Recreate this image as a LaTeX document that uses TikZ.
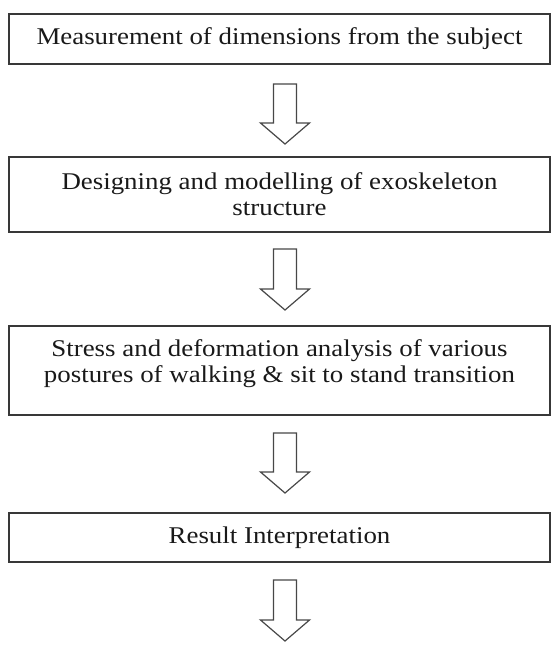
\documentclass[tikz,border=0pt]{standalone}
\usepackage{fontspec}
\setmainfont{Liberation Serif}[FakeStretch=1.12]
\usetikzlibrary{calc}
\begin{document}
\begin{tikzpicture}[x=1pt,y=-1pt,
  stepbox/.style={draw=black!78, line width=1.1pt, rectangle, minimum width=541pt, inner sep=0pt, align=center, font=\fontsize{24}{26}\selectfont, text=black!90},
  blk/.style={draw=black!72, line width=1.2pt, line join=miter, fill=white}]
\useasboundingbox (0,0) rectangle (552,653);
\node[stepbox, minimum height=50pt] (b1) at (279.5,39) {Measurement of dimensions from the subject};
\node[stepbox, minimum height=75pt] (b2) at (279.5,194.5) {Designing and modelling of exoskeleton\\structure};
\node[stepbox, minimum height=89pt, text depth=18pt] (b3) at (279.5,370.5) {Stress and deformation analysis of various\\postures of walking \& sit to stand transition};
\node[stepbox, minimum height=49pt] (b4) at (279.5,537.5) {Result Interpretation};
\newcommand{\blkarrow}[2]{%
  \draw[blk] (273.5,#1) -- (296.5,#1) -- (296.5,#2-21) -- (309.5,#2-21) -- (285,#2) -- (260.5,#2-21) -- (273.5,#2-21) -- cycle;}
\blkarrow{84}{144}
\blkarrow{249}{310}
\blkarrow{433}{493}
\blkarrow{580}{641}
\end{tikzpicture}
\end{document}
